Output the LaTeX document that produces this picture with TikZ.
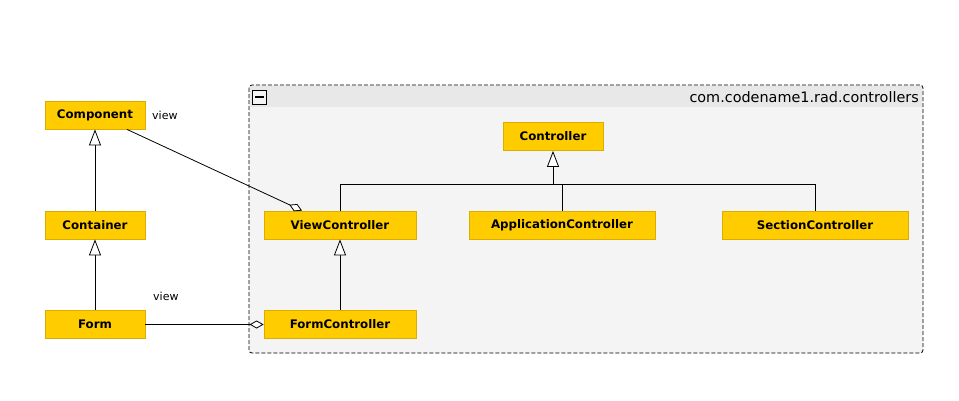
\documentclass[tikz,border=0pt]{standalone}
\usepackage{fontspec}
\setmainfont{DejaVu Sans}
\usetikzlibrary{arrows.meta,calc}
\definecolor{cls}{HTML}{FFCC00}
\definecolor{clsborder}{HTML}{D9AE00}
\definecolor{pkgbody}{HTML}{F4F4F4}
\definecolor{pkghead}{HTML}{E8E8E8}
\tikzset{
  x=1pt, y=-1pt,
  cls/.style={fill=cls, draw=clsborder, line width=0.8pt, minimum height=28pt, inner sep=0pt,
    font=\fontsize{11.8}{13}\selectfont\bfseries, text=black},
  gen/.style={draw=black, line width=0.8pt, -{Triangle[open, length=16pt, width=12pt, fill=white]}},
  agg/.style={draw=black, line width=0.8pt, -{Diamond[open, length=14pt, width=8pt, fill=white]}},
  lbl/.style={font=\fontsize{11}{13}\selectfont, text=black, inner sep=0pt},
}
\begin{document}
\begin{tikzpicture}
\useasboundingbox (0,0) rectangle (959,400);
\fill[white] (0,0) rectangle (959,400);
% package
\fill[pkgbody, rounded corners=3pt] (249,85) rectangle (923,353);
\fill[pkghead] (250,86) rectangle (922,107);
\draw[black, line width=0.8pt, dash pattern=on 4pt off 2pt, rounded corners=3pt] (249,85) rectangle (923,353);
\node[draw=black, fill=pkgbody, line width=0.7pt, minimum width=14pt, minimum height=14pt, inner sep=0pt] (minus) at (259.5,97) {};
\draw[black, line width=2pt] ($(minus.center)+(-4.5,0)$) -- ($(minus.center)+(4.5,0)$);
\node[anchor=base east, font=\fontsize{14.4}{16}\selectfont, inner sep=0pt] (pkglabel) at (919,102) {com.codename1.rad.controllers};
% classes
\node[cls, minimum width=100pt] (comp) at (95,115) {Component};
\node[cls, minimum width=100pt] (cont) at (95,225) {Container};
\node[cls, minimum width=100pt] (form) at (95,324.5) {Form};
\node[cls, minimum width=100pt] (ctrl) at (553,136.5) {Controller};
\node[cls, minimum width=152pt] (vc) at (340,225) {ViewController};
\node[cls, minimum width=186pt] (ac) at (562,225) {ApplicationController};
\node[cls, minimum width=186pt] (sc) at (815,225) {SectionController};
\node[cls, minimum width=152pt] (fc) at (340,324.5) {FormController};
% generalizations
\draw[gen] (cont.north) -- (comp.south);
\draw[gen] (form.north) -- (cont.south);
\draw[gen] (fc.north) -- (vc.south);
\coordinate (bus) at (553,184);
\draw[draw=black, line width=0.8pt] (vc.north) |- (bus);
\draw[draw=black, line width=0.8pt] (sc.north) |- (bus);
\draw[draw=black, line width=0.8pt] (ac.north) |- (bus);
\draw[gen] (bus) -- (ctrl.south);
% aggregations
\draw[agg] ([xshift=32pt]comp.south) -- ([xshift=-38pt]vc.north);
\draw[agg] (form.east) -- (fc.west);
% labels
\node[lbl, anchor=base west] (v1) at (152,119) {view};
\node[lbl, anchor=base west] (v2) at (153,300) {view};
\end{tikzpicture}
\end{document}
